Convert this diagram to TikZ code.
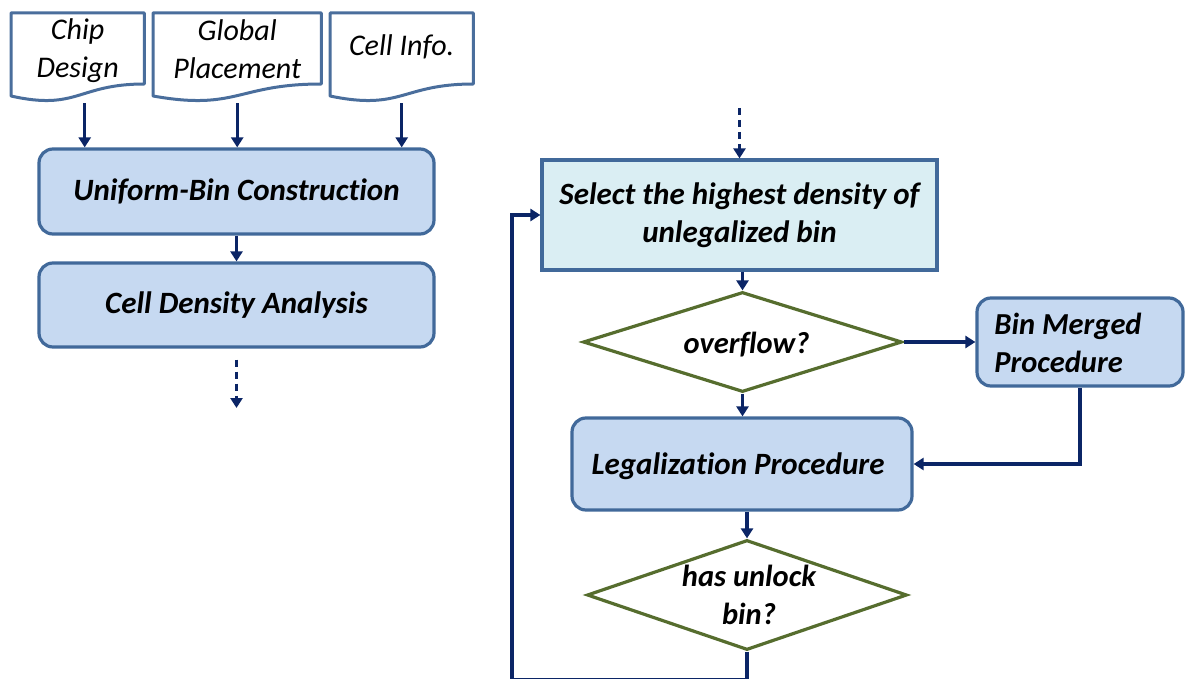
\documentclass[tikz,border=0pt]{standalone}
\usepackage{fontspec}
\setmainfont{Carlito}[Ligatures=NoCommon]
\usetikzlibrary{arrows.meta,shapes.geometric,calc}

\definecolor{boxfill}{HTML}{C6D9F1}
\definecolor{boxline}{HTML}{41699A}
\definecolor{selfill}{HTML}{DAEEF3}
\definecolor{decline}{HTML}{566D2E}
\definecolor{flow}{HTML}{0B2566}
\definecolor{docline}{HTML}{4A6E9C}

\begin{document}
\begin{tikzpicture}[x=1pt,y=-1pt,
  proc/.style={draw=boxline, line width=3.2pt, fill=boxfill, rounded corners=14pt,
    inner sep=0pt, align=center, font=\fontsize{31}{38}\selectfont\bfseries\itshape},
  selbox/.style={proc, fill=selfill, rounded corners=0pt},
  decision/.style={diamond, draw=decline, line width=3.2pt, fill=white, inner sep=0pt},
  dectext/.style={align=center, inner sep=0pt, font=\fontsize{30.5}{38}\selectfont\bfseries\itshape},
  docbox/.style={draw=none, inner sep=0pt, minimum height=90pt},
  doctext/.style={align=center, inner sep=0pt, font=\fontsize{30}{38}\selectfont\itshape},
  docshape/.style={draw=docline, line width=3pt, line join=round, fill=white},
  arr/.style={draw=flow, line width=3.4pt, -{Triangle[length=10pt,width=12pt]}},
  dashline/.style={dash pattern=on 7pt off 5pt}
]
\useasboundingbox (0,0) rectangle (1185,679);

% input documents
\node[docbox, minimum width=133pt, anchor=north west] (chip) at (11,13) {};
\node[docbox, minimum width=168pt, anchor=north west] (gp)   at (153,13) {};
\node[docbox, minimum width=143pt, anchor=north west] (cinf) at (330,13) {};
\foreach \d in {chip,gp,cinf}{
  \draw[docshape] (\d.north west) -- (\d.north east) -- ($(\d.north east)+(0,71)$)
    .. controls ($(\d.north)+(0,71)$) and ($(\d.north)+(0,98)$) ..
    ($(\d.north west)+(0,83)$) -- cycle;
}
\node[doctext] (chiptxt) at ([yshift=8pt]chip.center) {Chip\\Design};
\node[doctext] (gptxt)   at ([yshift=9.5pt]gp.center) {Global\\Placement};
\node[doctext] (cinftxt) at ([yshift=11pt]cinf.center) {Cell Info.};

% left column
\node[proc, minimum width=395pt, minimum height=85pt] (ubin) at (236.5,191.5) {Uniform-Bin Construction};
\node[proc, minimum width=395pt, minimum height=84pt] (cda)  at (236.5,305) {Cell Density Analysis};
\coordinate (outL) at (236.5,408);

\draw[arr] ([xshift=7pt]chip.south) -- ([xshift=7pt]chip.south |- ubin.north);
\draw[arr] (gp.south) -- (gp.south |- ubin.north);
\draw[arr] (cinf.south) -- (cinf.south |- ubin.north);
\draw[arr] (ubin.south) -- (cda.north);
\draw[arr, dashline] ([yshift=-11pt]cda.south) -- (outL);

% right column
\coordinate (inR) at (739.5,108);
\node[selbox, minimum width=395pt, minimum height=110pt] (sel) at (739.5,215)
  {Select the highest density of\\unlegalized bin};
\node[decision, minimum width=319pt, minimum height=100pt,
  label={[dectext, yshift=-3pt, xshift=4pt]center:overflow?}] (ovf) at (742.5,342) {};
\node[proc, minimum width=206pt, minimum height=88pt,
  label={[dectext, align=left, xshift=-12pt, yshift=-1pt]center:Bin Merged\\Procedure}] (bmp) at (1080,342) {};
\node[proc, minimum width=340pt, minimum height=92pt, text depth=0pt] (leg) at (742,464)
  {\hspace*{-8pt}Legalization Procedure};
\node[decision, minimum width=320pt, minimum height=110pt,
  label={[dectext, xshift=2pt]center:has unlock\\bin?}] (unl) at (747,595) {};

\draw[arr, dashline] (inR) -- (inR |- sel.north);
\draw[arr] (ovf.north |- sel.south) -- (ovf.north);
\draw[arr] (ovf.east) -- (bmp.west |- ovf.east);
\draw[arr] (ovf.south) -- (ovf.south |- leg.north);
\draw[arr] (bmp.south) |- (leg.east);
\draw[arr] (unl.north |- leg.south) -- (unl.north);
\draw[arr] (unl.south) -- ++(0,28) -- ++(-235,0) |- (sel.west);
\end{tikzpicture}
\end{document}
